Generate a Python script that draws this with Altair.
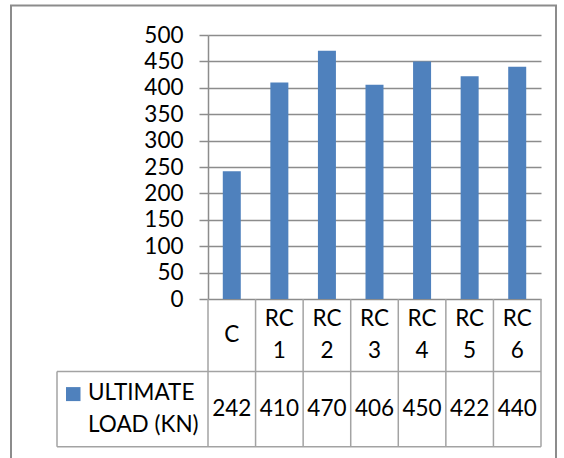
import altair as alt
import pandas as pd

# Data
categories = ["C", "RC 1", "RC 2", "RC 3", "RC 4", "RC 5", "RC 6"]
category_labels = ["C", "RC\n1", "RC\n2", "RC\n3", "RC\n4", "RC\n5", "RC\n6"]
loads = [242, 410, 470, 406, 450, 422, 440]
series_label = "ULTIMATE\nLOAD (KN)"
y_ticks = [0, 50, 100, 150, 200, 250, 300, 350, 400, 450, 500]

# Layout (pixels)
W, H = 333, 264
PAD_L, PAD_T = 208, 35
ROW1_BOTTOM = 336.5     # bottom of the category row, relative to plot top
ROW2_BOTTOM = 411.7     # bottom of the value row
LEGEND_LEFT = -151
LINE_H = 32
FS = 22.5

FONT = "Lato"
GRID = "#8c8c8c"
TABLE = "#a3a3a3"
BLUE = "#4f81bd"

df = pd.DataFrame({"cat": categories, "label": category_labels, "load": loads})
one = pd.DataFrame({"k": [0]})

x_enc = alt.X("cat:N", sort=categories,
              scale=alt.Scale(paddingInner=0, paddingOuter=0), axis=None)

bars = alt.Chart(df).mark_bar(width=18, color=BLUE).encode(
    x=x_enc,
    y=alt.Y("load:Q",
            scale=alt.Scale(domain=[0, 500], nice=False),
            axis=alt.Axis(values=y_ticks, title=None, grid=True,
                          gridColor=GRID, gridWidth=1.5,
                          domainColor=GRID, domainWidth=1.5,
                          tickColor=GRID, tickWidth=1.5, tickSize=9,
                          labelPadding=16, labelFont=FONT, labelFontSize=FS,
                          labelColor="black")),
)

# Data table: vertical cell borders at each column's left edge
col_lines = alt.Chart(df).mark_rule(color=TABLE, strokeWidth=1.5).encode(
    x=alt.X("cat:N", sort=categories, bandPosition=0, axis=None),
    y=alt.value(H), y2=alt.value(ROW2_BOTTOM),
)
right_line = alt.Chart(one).mark_rule(color=TABLE, strokeWidth=1.5).encode(
    x=alt.value(W), y=alt.value(H), y2=alt.value(ROW2_BOTTOM))
legend_left_line = alt.Chart(one).mark_rule(color=TABLE, strokeWidth=1.5).encode(
    x=alt.value(LEGEND_LEFT), y=alt.value(ROW1_BOTTOM), y2=alt.value(ROW2_BOTTOM))
row_line1 = alt.Chart(one).mark_rule(color=TABLE, strokeWidth=1.5).encode(
    x=alt.value(LEGEND_LEFT), x2=alt.value(W), y=alt.value(ROW1_BOTTOM))
row_line2 = alt.Chart(one).mark_rule(color=TABLE, strokeWidth=1.5).encode(
    x=alt.value(LEGEND_LEFT), x2=alt.value(W), y=alt.value(ROW2_BOTTOM))

row1_mid = (H + ROW1_BOTTOM) / 2
row2_mid = (ROW1_BOTTOM + ROW2_BOTTOM) / 2
text_style = dict(font=FONT, fontSize=FS, color="black", lineBreak="\n",
                  lineHeight=LINE_H, baseline="middle")

# Category names: two-line labels start half a line above the row middle
cat_two = alt.Chart(df).transform_filter("indexof(datum.label, '\\n') >= 0").mark_text(
    align="center", **text_style
).encode(x=x_enc, y=alt.value(row1_mid - LINE_H / 2), text="label:N")
cat_one = alt.Chart(df).transform_filter("indexof(datum.label, '\\n') < 0").mark_text(
    align="center", **text_style
).encode(x=x_enc, y=alt.value(row1_mid), text="label:N")

val_text = alt.Chart(df).mark_text(align="center", **text_style).encode(
    x=x_enc, y=alt.value(row2_mid), text="load:Q")

legend_key = alt.Chart(one).mark_rect(color=BLUE).encode(
    x=alt.value(-142), x2=alt.value(-127.5),
    y=alt.value(row2_mid - LINE_H / 2 - 6), y2=alt.value(row2_mid - LINE_H / 2 + 8))
legend_text = alt.Chart(pd.DataFrame({"t": [series_label]})).mark_text(
    align="left", **text_style
).encode(x=alt.value(-120), y=alt.value(row2_mid - LINE_H / 2), text="t:N")

# Outer chart-area frame
frame = alt.Chart(one).mark_rect(fill=None, stroke="#8c8c8c", strokeWidth=2).encode(
    x=alt.value(11 - PAD_L), x2=alt.value(556 - PAD_L),
    y=alt.value(5.5 - PAD_T), y2=alt.value(470 - PAD_T))

chart = alt.layer(
    frame, bars, col_lines, right_line, legend_left_line, row_line1, row_line2,
    cat_two, cat_one, val_text, legend_key, legend_text,
).properties(
    width=W, height=H,
    autosize=alt.AutoSizeParams(type="none"),
    padding={"left": PAD_L, "top": PAD_T, "right": 564 - PAD_L - W,
             "bottom": 458 - PAD_T - H},
    background="white",
).configure_view(stroke=None)

chart.save("out.html", embed_options={"renderer": "svg", "actions": False})
